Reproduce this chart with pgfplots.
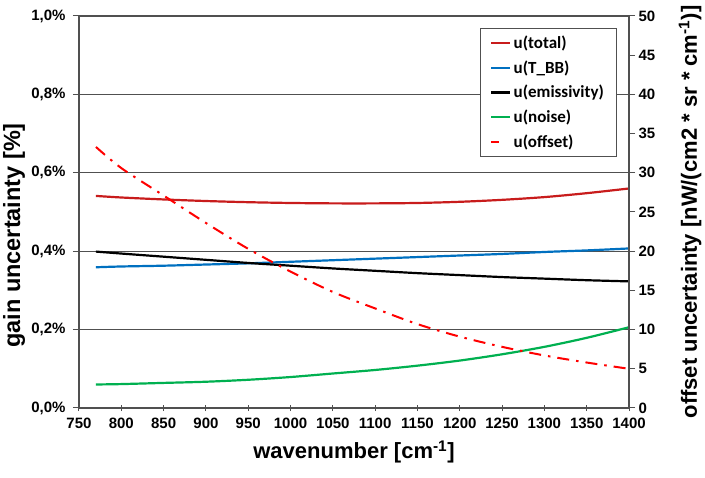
\documentclass[border=0pt]{standalone}
\usepackage{fontspec}
\setmainfont{Liberation Sans}
\newfontfamily\legendfont{Carlito}
\usepackage{pgfplots}
\pgfplotsset{compat=1.18}

\definecolor{totalred}{RGB}{200,28,28}
\definecolor{bbblue}{RGB}{0,112,192}
\definecolor{noisegreen}{RGB}{0,176,80}
\definecolor{offsetred}{RGB}{255,0,0}
\definecolor{frame}{RGB}{80,80,80}

\pgfplotsset{
  /pgf/number format/assume math mode=true,
  /pgf/number format/1000 sep={},
  common/.style={
    scale only axis, width=550pt, height=392pt,
    xmin=750, xmax=1400,
    tick label style={font=\fontsize{15}{17}\selectfont\bfseries},
    label style={font=\fontsize{22}{26}\selectfont\bfseries},
    axis line style={draw=frame, line width=1.2pt},
    every tick/.style={draw=frame, line width=1pt},
    major tick length=6pt,
    minor tick num=0,
  },
  series/.style={line width=2.2pt, smooth},
}

\begin{document}
\begin{tikzpicture}
% left axis: gain uncertainty in percent
\begin{axis}[common, name=gain,
  ymin=0, ymax=1,
  xtick={750,800,...,1400},
  ytick={0,0.2,0.4,0.6,0.8,1},
  yticklabel={\pgfmathprintnumber[fixed,fixed zerofill,precision=1,use comma]{\tick}\%},
  yticklabel style={xshift=-4pt},
  xtick pos=bottom, ytick pos=left,
  x tick style={/pgfplots/tick align=center},
  tick align=outside,
  ymajorgrids, major grid style={draw=frame, line width=1pt},
  xlabel={wavenumber [cm\textsuperscript{-1}]},
  ylabel={gain uncertainty [\%]},
  xlabel style={at={(axis description cs:0.5,-0.112)}, anchor=center},
  ylabel style={at={(axis description cs:-0.118,0.44)}, anchor=center,
    font=\fontsize{23.5}{26}\selectfont\bfseries},
  legend style={at={(rel axis cs:0.978,0.969)}, anchor=north east,
    draw=frame, line width=1pt, fill=white,
    font=\legendfont\bfseries\fontsize{17}{19}\selectfont,
    inner xsep=10pt, inner ysep=5pt, row sep=5.5pt,
    nodes={inner sep=2.5pt}},
  legend cell align=left,
  legend image code/.code={\draw[#1] (0pt,0pt) -- (19pt,0pt);},
]
\addplot[totalred, series] table {
770 0.541
800 0.537
850 0.532
900 0.528
950 0.525
1000 0.523
1050 0.522
1100 0.522
1150 0.523
1200 0.526
1250 0.531
1300 0.538
1350 0.548
1400 0.560
};
\addlegendentry{u(total)}
\addplot[bbblue, series] table {
770 0.359
800 0.361
850 0.363
900 0.366
950 0.369
1000 0.373
1050 0.377
1100 0.381
1150 0.385
1200 0.389
1250 0.393
1300 0.398
1350 0.402
1400 0.407
};
\addlegendentry{u(T\_BB)}
\addplot[black, series] table {
770 0.399
800 0.394
850 0.386
900 0.378
950 0.370
1000 0.363
1050 0.356
1100 0.350
1150 0.344
1200 0.339
1250 0.334
1300 0.330
1350 0.326
1400 0.323
};
\addlegendentry{u(emissivity)}
\addplot[noisegreen, series] table {
770 0.060
800 0.061
850 0.064
900 0.067
950 0.072
1000 0.079
1050 0.088
1100 0.097
1150 0.108
1200 0.121
1250 0.137
1300 0.156
1350 0.179
1400 0.206
};
\addlegendentry{u(noise)}
% the offset series lives on the right axis; only its key is drawn here
\addlegendimage{offsetred, line width=2.2pt,
  legend image code/.code={\draw[offsetred, line width=2.2pt] (0pt,0pt) -- (8pt,0pt);}}
\addlegendentry{u(offset)}
\end{axis}

% right axis: offset uncertainty
\begin{axis}[common,
  ymin=0, ymax=50,
  axis x line=none,
  axis y line*=right,
  ytick={0,5,...,50},
  tick align=outside,
  ylabel={offset uncertainty [nW/(cm2 * sr * cm\textsuperscript{-1})]},
  ylabel style={at={(axis description cs:1.111,0.5)}, anchor=center},
]
\addplot[offsetred, line width=2pt, smooth,
  dash pattern=on 12pt off 7pt on 2.5pt off 7pt] table {
770 33.3
800 30.6
850 27.1
900 23.6
950 20.3
1000 17.4
1050 14.8
1100 12.7
1150 10.7
1200 9.1
1250 7.8
1300 6.7
1350 5.8
1400 5.0
};
\end{axis}

\pgfresetboundingbox
\path[use as bounding box] ([xshift=-79pt,yshift=-70pt]gain.south west)
  rectangle ([xshift=76pt,yshift=16pt]gain.north east);
\end{tikzpicture}
\end{document}
